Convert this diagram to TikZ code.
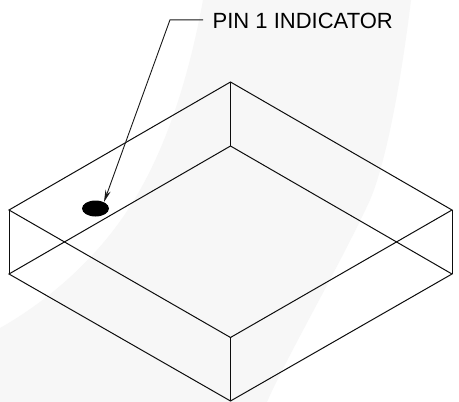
\documentclass[tikz,border=0pt]{standalone}
\usepackage{fontspec}
\setmainfont{Liberation Sans}
\usetikzlibrary{arrows.meta,shapes.geometric}
\definecolor{wm}{HTML}{F7F7F7}
\tikzset{
  edge/.style={draw=black!95,line width=1pt,line join=miter},
  lead/.style={draw=black!90,line width=0.9pt},
  lbl/.style={inner sep=0pt,anchor=base west,font=\fontsize{22}{24}\selectfont,text=black},
  pinmark/.style={fill=black,ellipse,minimum width=27pt,minimum height=16pt,inner sep=0pt}
}
\begin{document}
\begin{tikzpicture}[x=1pt,y=-1pt]
\useasboundingbox (0,0) rectangle (459,402);
\fill[white] (0,0) rectangle (459,402);
% watermark
\fill[wm] (203,0) .. controls (192,60) and (170,150) .. (123,217)
  .. controls (95,258) and (50,300) .. (0,328) -- (0,402) -- (267,402)
  .. controls (285,360) and (340,265) .. (370,200)
  .. controls (385,165) and (400,90) .. (411,0) -- cycle;
% box corners
\coordinate (tb) at (230.5,82);
\coordinate (tl) at (9,210);
\coordinate (tr) at (452,210);
\coordinate (tf) at (230.5,337.5);
\coordinate (bb) at (230.5,146);
\coordinate (bl) at (9,274);
\coordinate (br) at (452,274);
\coordinate (bf) at (230.5,401);
\draw[edge] (tb) -- (tl) -- (tf) -- (tr) -- cycle;
\draw[edge] (bb) -- (bl) -- (bf) -- (br) -- cycle;
\draw[edge] (tb) -- (bb);
\draw[edge] (tl) -- (bl);
\draw[edge] (tr) -- (br);
\draw[edge] (tf) -- (bf);
% pin mark
\node[pinmark] (pin) at (95.5,208.5) {};
% label and leader
\node[lbl] (label) at (212.5,28.3) {PIN 1 INDICATOR};
\coordinate (knee) at (170,19.8);
\coordinate (lstart) at (203,19.8);
\coordinate (tip) at (104,202);
\draw[lead,-{Stealth[length=12pt,width=5.5pt]}] (lstart) -- (knee) -- (tip);
\end{tikzpicture}
\end{document}
